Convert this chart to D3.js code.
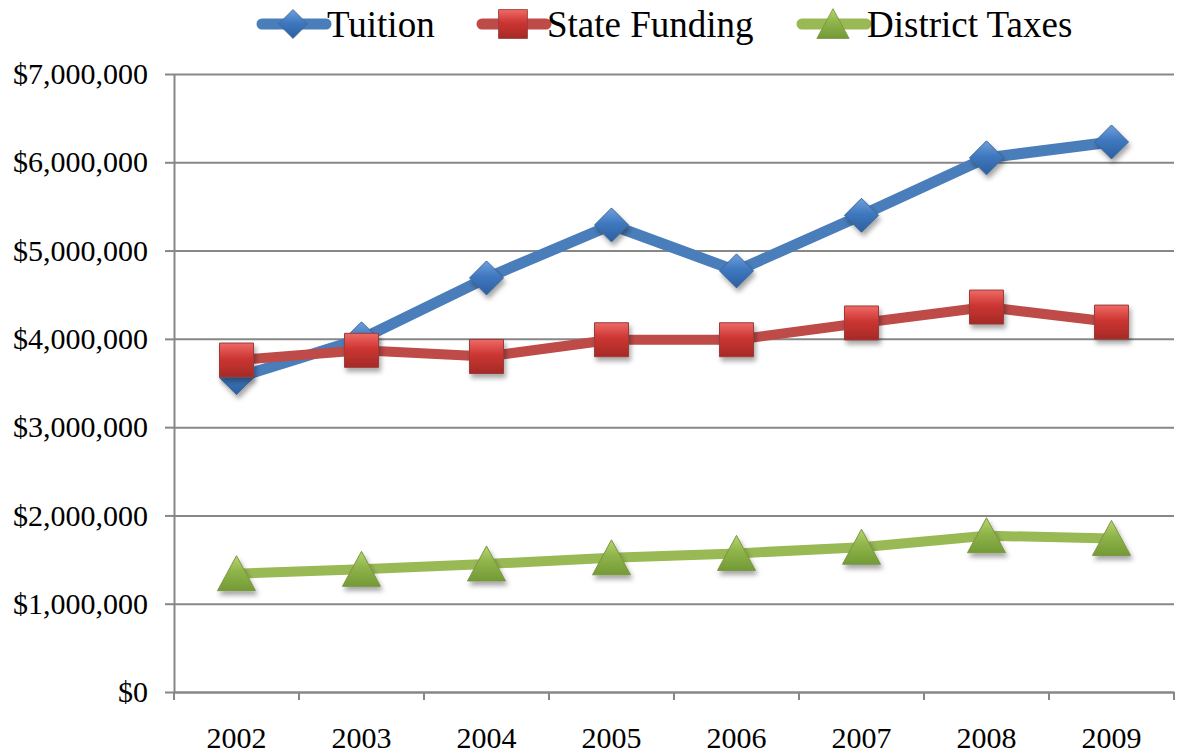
<!DOCTYPE html>
<html>
<head>
<meta charset="utf-8">
<script src="https://cdn.jsdelivr.net/npm/d3@7"></script>
<style>
  body { margin: 0; background: #fff; }
  svg { display: block; font-family: "Liberation Serif", "Times New Roman", serif; }
</style>
</head>
<body>
<svg width="1183" height="756"></svg>
<script>
const years = ["2002", "2003", "2004", "2005", "2006", "2007", "2008", "2009"];
const tuition = [3560000, 4000000, 4690000, 5290000, 4770000, 5400000, 6050000, 6230000];
const stateFunding = [3760000, 3870000, 3800000, 3990000, 3990000, 4180000, 4360000, 4190000];
const districtTaxes = [1340000, 1390000, 1450000, 1520000, 1570000, 1640000, 1770000, 1740000];
const yTicks = [0, 1000000, 2000000, 3000000, 4000000, 5000000, 6000000, 7000000];
const seriesNames = ["Tuition", "State Funding", "District Taxes"];

const blue = "#4a7ebb", red = "#be4b48", green = "#98b954";
const gray = "#878787";

const svg = d3.select("svg");

const xScale = d3.scaleBand().domain(years).range([174, 1174]).padding(0);
const yScale = d3.scaleLinear().domain([0, 7000000]).range([692, 74]);

// defs: gradients + shadow
const defs = svg.append("defs");
defs.append("filter").attr("id", "shadow")
  .attr("x", "-50%").attr("y", "-50%").attr("width", "200%").attr("height", "200%")
  .append("feDropShadow")
  .attr("dx", 2).attr("dy", 4).attr("stdDeviation", 2.5)
  .attr("flood-color", "#000").attr("flood-opacity", 0.35);

function grad(id, top, mid, bottom) {
  let g = defs.append("linearGradient").attr("id", id)
    .attr("x1", 0).attr("y1", 0).attr("x2", 0).attr("y2", 1);
  g.append("stop").attr("offset", "0%").attr("stop-color", top);
  g.append("stop").attr("offset", "45%").attr("stop-color", mid);
  g.append("stop").attr("offset", "100%").attr("stop-color", bottom);
}
grad("gBlue", "#6fa0dc", "#3f78c0", "#2d5f9e");
grad("gRed", "#ef6a66", "#cc3532", "#a52a27");
grad("gGreen", "#b6d66e", "#8fb44a", "#739a36");

// y gridlines + ticks
const yAxis = d3.axisLeft(yScale).tickValues(yTicks)
  .tickFormat(d3.format("$,")).tickSizeInner(9).tickSizeOuter(0).tickPadding(17);
const yG = svg.append("g").attr("id", "yAxisG")
  .attr("transform", "translate(174,0)").call(yAxis);
yG.select(".domain").attr("stroke", gray).attr("stroke-width", 2);
yG.selectAll(".tick line").attr("stroke", gray).attr("stroke-width", 2);
yG.selectAll(".tick text").attr("font-size", 30).attr("fill", "#000")
  .attr("font-family", "Liberation Serif, serif");
yG.selectAll("g.tick")
  .insert("line")
  .attr("class", "gridline")
  .attr("x1", 0).attr("x2", 1000)
  .attr("y1", 0).attr("y2", 0)
  .attr("stroke", gray).attr("stroke-width", 2);

// x axis
const xAxis = d3.axisBottom(xScale).tickSize(0).tickPadding(0);
const xG = svg.append("g").attr("id", "xAxisG")
  .attr("transform", "translate(0,692)").call(xAxis);
xG.select(".domain").attr("stroke", gray).attr("stroke-width", 2);
xG.selectAll(".tick text").attr("font-size", 30).attr("fill", "#000")
  .attr("font-family", "Liberation Serif, serif")
  .attr("dy", 0).attr("y", 56);
// boundary tick marks
const bounds = years.map(y => xScale(y)).concat([xScale.range()[1]]);
xG.selectAll("line.bound").data(bounds).join("line")
  .attr("class", "bound")
  .attr("x1", d => d).attr("x2", d => d)
  .attr("y1", 0).attr("y2", 8)
  .attr("stroke", gray).attr("stroke-width", 2);

// marker shapes
const diamond = "M0,-17L17,0L0,17L-17,0Z";
const square = "M-17,-17H17V17H-17Z";
const triangle = "M0,-18L19,17H-19Z";

const series = [
  { name: seriesNames[0], values: tuition, color: blue, fill: "url(#gBlue)", shape: diamond, width: 11 },
  { name: seriesNames[1], values: stateFunding, color: red, fill: "url(#gRed)", shape: square, width: 10 },
  { name: seriesNames[2], values: districtTaxes, color: green, fill: "url(#gGreen)", shape: triangle, width: 10 }
];

const cx = i => xScale(years[i]) + xScale.bandwidth() / 2;

// draw in series order: later series sit on top
series.forEach(s => {
  const line = d3.line().x((d, i) => cx(i)).y(d => yScale(d));
  svg.append("path")
    .attr("d", line(s.values))
    .attr("fill", "none")
    .attr("stroke", s.color)
    .attr("stroke-width", s.width)
    .attr("stroke-linejoin", "round");
  svg.append("g").selectAll("path.marker")
    .data(s.values)
    .join("path")
    .attr("class", "marker")
    .attr("d", s.shape)
    .attr("transform", (d, i) => `translate(${cx(i)},${yScale(d)})`)
    .attr("fill", s.fill)
    .attr("stroke", d3.color(s.color).darker(0.6))
    .attr("stroke-width", 1)
    .attr("filter", "url(#shadow)");
});

// legend
const legendX = [262, 482, 802];
const legend = svg.append("g").attr("id", "legend");
series.forEach((s, i) => {
  const g = legend.append("g").attr("transform", `translate(${legendX[i]},24)`);
  g.append("line")
    .attr("x1", 0).attr("x2", 64).attr("y1", 0).attr("y2", 0)
    .attr("stroke", s.color).attr("stroke-width", 11).attr("stroke-linecap", "round");
  g.append("path")
    .attr("d", s.shape)
    .attr("transform", "translate(31,0) scale(0.85)")
    .attr("fill", s.fill)
    .attr("stroke", d3.color(s.color).darker(0.6))
    .attr("stroke-width", 1);
  g.append("text")
    .attr("x", 65).attr("y", 13)
    .attr("font-size", 37)
    .attr("fill", "#000")
    .text(s.name);
});
</script>
</body>
</html>
